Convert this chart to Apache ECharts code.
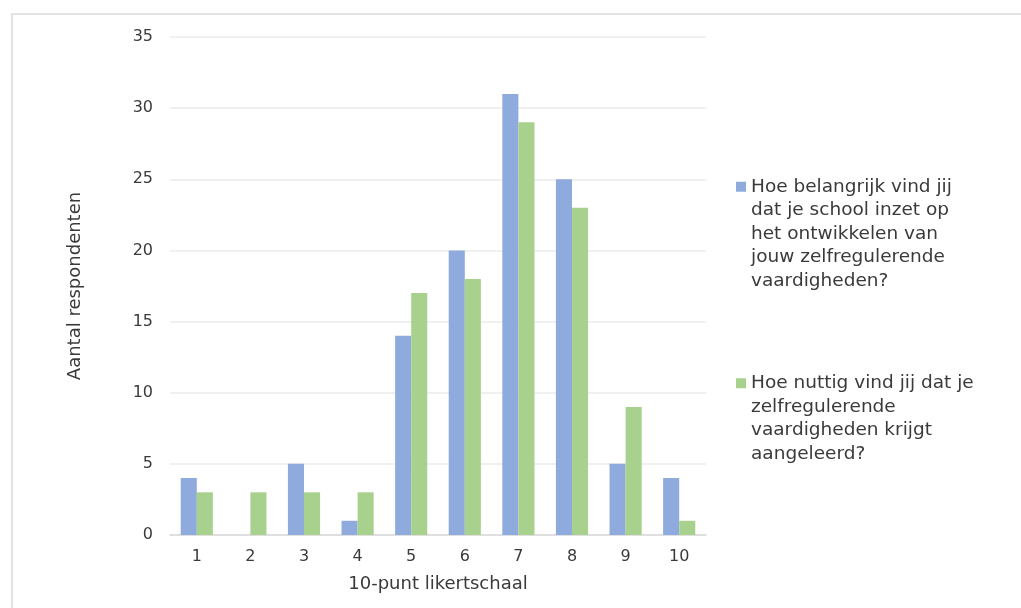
<!DOCTYPE html>
<html>
<head>
<meta charset="utf-8">
<script src="https://cdn.jsdelivr.net/npm/echarts@6/dist/echarts.min.js"></script>
<style>
html,body{margin:0;padding:0;background:#fff;}
#frame{position:absolute;left:11px;top:13px;width:1030px;height:620px;border:2px solid #e3e3e3;box-sizing:border-box;}
#chart{position:absolute;left:0;top:0;width:1021px;height:608px;}
</style>
</head>
<body>
<div id="frame"></div>
<div id="chart"></div>
<script>
const categories = ['1','2','3','4','5','6','7','8','9','10'];
const seriesNames = [
  'Hoe belangrijk vind jij\ndat je school inzet op\nhet ontwikkelen van\njouw zelfregulerende\nvaardigheden?',
  'Hoe nuttig vind jij dat je\nzelfregulerende\nvaardigheden krijgt\naangeleerd?'
];
const belangrijk = [4, 0, 5, 1, 14, 20, 31, 25, 5, 4];
const nuttig = [3, 3, 3, 3, 17, 18, 29, 23, 9, 1];
const yTicks = { min: 0, max: 35, interval: 5 };
const xAxisName = '10-punt likertschaal';
const yAxisName = 'Aantal respondenten';

const colors = ['#8faadc', '#a9d18e'];
const textColor = '#3a3a3a';
const font = 'DejaVu Sans';

const chart = echarts.init(document.getElementById('chart'), null, { renderer: 'canvas' });
chart.setOption({
  animation: false,
  color: colors,
  grid: { left: 170, right: 315, top: 37, bottom: 73, containLabel: false },
  xAxis: {
    type: 'category',
    data: categories,
    name: xAxisName,
    nameLocation: 'middle',
    nameGap: 40,
    nameTextStyle: { color: textColor, fontFamily: font, fontSize: 18 },
    axisLine: { show: true, lineStyle: { color: '#d9d9d9', width: 1.5 } },
    axisTick: { show: false },
    axisLabel: { color: textColor, fontFamily: font, fontSize: 16, margin: 14 }
  },
  yAxis: {
    type: 'value',
    min: yTicks.min,
    max: yTicks.max,
    interval: yTicks.interval,
    name: yAxisName,
    nameLocation: 'middle',
    nameGap: 86,
    nameRotate: 90,
    nameTextStyle: { color: textColor, fontFamily: font, fontSize: 18 },
    axisLine: { show: false },
    axisTick: { show: false },
    axisLabel: { color: textColor, fontFamily: font, fontSize: 16, margin: 17 },
    splitLine: { lineStyle: { color: '#ebebeb', width: 1.5 } }
  },
  legend: {
    orient: 'vertical',
    left: 736,
    top: 175,
    padding: 0,
    itemGap: 74,
    itemWidth: 10,
    itemHeight: 104,
    itemStyle: { borderWidth: 0 },
    textStyle: { color: textColor, fontFamily: font, fontSize: 18.5, lineHeight: 23.5 },
    data: [
      { name: seriesNames[0], icon: 'path://M0,0L10,0L10,10L0,10Z M0,104L0.001,104' },
      { name: seriesNames[1], icon: 'path://M0,0L0.001,0 M0,11.75L10,11.75L10,21.75L0,21.75Z M0,104L0.001,104' }
    ]
  },
  series: [
    { name: seriesNames[0], type: 'bar', data: belangrijk, barGap: '0%', barCategoryGap: '40%' },
    { name: seriesNames[1], type: 'bar', data: nuttig, barGap: '0%', barCategoryGap: '40%' }
  ]
});
</script>
</body>
</html>
